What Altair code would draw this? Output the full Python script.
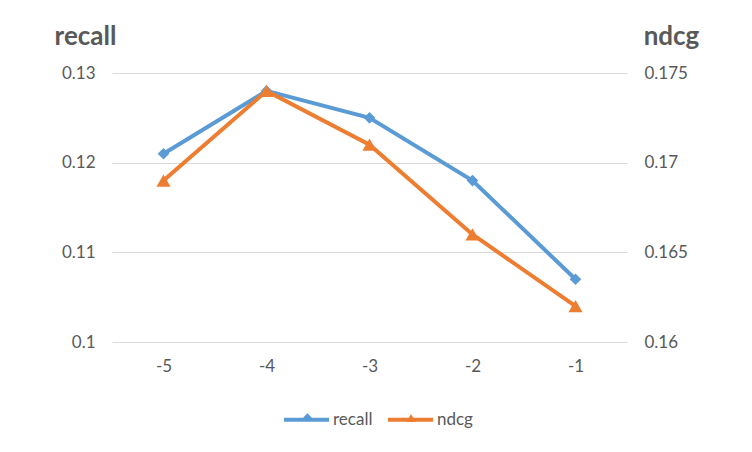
import altair as alt
import pandas as pd

categories = ["-5", "-4", "-3", "-2", "-1"]
recall = [0.121, 0.128, 0.125, 0.118, 0.107]
ndcg = [0.169, 0.174, 0.171, 0.166, 0.162]
series = ["recall", "ndcg"]
colors = ["#5B9BD5", "#ED7D31"]
left_ticks = [0.10, 0.11, 0.12, 0.13]
right_ticks = [0.160, 0.165, 0.170, 0.175]

df_r = pd.DataFrame({"x": categories, "value": recall, "series": "recall", "mk": "recall"})
df_n = pd.DataFrame({"x": categories, "value": ndcg, "series": "ndcg", "mk": "ndcg"})

FONT = "Lato"
GREY = "#595959"
LEG_Y = 322

color = alt.Color(
    "series:N",
    scale=alt.Scale(domain=series, range=colors),
    legend=alt.Legend(
        title=None,
        orient="none",
        direction="horizontal",
        legendX=170,
        legendY=LEG_Y,
        symbolType="stroke",
        symbolSize=2025,
        symbolStrokeWidth=4,
        labelFont=FONT,
        labelFontSize=17,
        labelColor=GREY,
        labelOffset=2,
        columnPadding=7,
    ),
)


def marker_legend(x, c, s):
    return alt.Legend(
        title=None,
        orient="none",
        legendX=x,
        legendY=LEG_Y + 18,
        symbolSize=s,
        symbolFillColor=c,
        symbolStrokeColor=c,
        symbolStrokeWidth=0,
        symbolOpacity=1,
        labelExpr="''",
        labelFontSize=1,
        labelOffset=0,
    )


xenc = alt.X(
    "x:O",
    sort=categories,
    scale=alt.Scale(padding=0.5),
    axis=alt.Axis(
        title=None,
        labelAngle=0,
        domain=False,
        ticks=False,
        labelFont=FONT,
        labelFontSize=17,
        labelColor=GREY,
        labelPadding=16,
    ),
)


def yaxis(orient, ticks, title, title_x):
    return alt.Axis(
        orient=orient,
        values=ticks,
        format="~g",
        domain=False,
        ticks=False,
        grid=(orient == "left"),
        gridColor="#D9D9D9",
        gridWidth=1,
        labelFont=FONT,
        labelFontSize=17,
        labelColor=GREY,
        labelPadding=17,
        title=title,
        titleFont=FONT,
        titleFontSize=26,
        titleFontWeight="bold",
        titleColor=GREY,
        titleAngle=0,
        titleAlign="center",
        titleBaseline="middle",
        titleX=title_x,
        titleY=-37,
    )


yr = alt.Y("value:Q", scale=alt.Scale(domain=[0.10, 0.13]),
           axis=yaxis("left", left_ticks, "recall", -27))
yn = alt.Y("value:Q", scale=alt.Scale(domain=[0.16, 0.175]),
           axis=yaxis("right", right_ticks, "ndcg", 44))

line_r = alt.Chart(df_r).mark_line(strokeWidth=4).encode(x=xenc, y=yr, color=color)
pts_r = alt.Chart(df_r).mark_point(filled=True, size=135, opacity=1, color=colors[0]).encode(
    x=xenc, y=yr,
    shape=alt.Shape("mk:N", scale=alt.Scale(domain=["recall"], range=["diamond"]),
                    legend=marker_legend(191, colors[0], 70)),
)
line_n = alt.Chart(df_n).mark_line(strokeWidth=4).encode(x=xenc, y=yn, color=color)
pts_n = alt.Chart(df_n).mark_point(filled=True, size=200, opacity=1, color=colors[1]).encode(
    x=xenc, y=yn,
    shape=alt.Shape("mk:N", scale=alt.Scale(domain=["ndcg"], range=["triangle-up"]),
                    legend=marker_legend(294, colors[1], 90)),
)

chart = (
    alt.layer(alt.layer(line_r, pts_r), alt.layer(line_n, pts_n))
    .resolve_scale(y="independent", shape="independent")
    .resolve_legend(shape="independent")
    .properties(
        width=515,
        height=269,
        padding={"left": 104, "top": 65, "right": 117, "bottom": 102},
        autosize=alt.AutoSizeParams(type="none"),
        background="white",
    )
    .configure_view(stroke=None)
)

chart.save("out.html", embed_options={"renderer": "svg", "actions": False})
